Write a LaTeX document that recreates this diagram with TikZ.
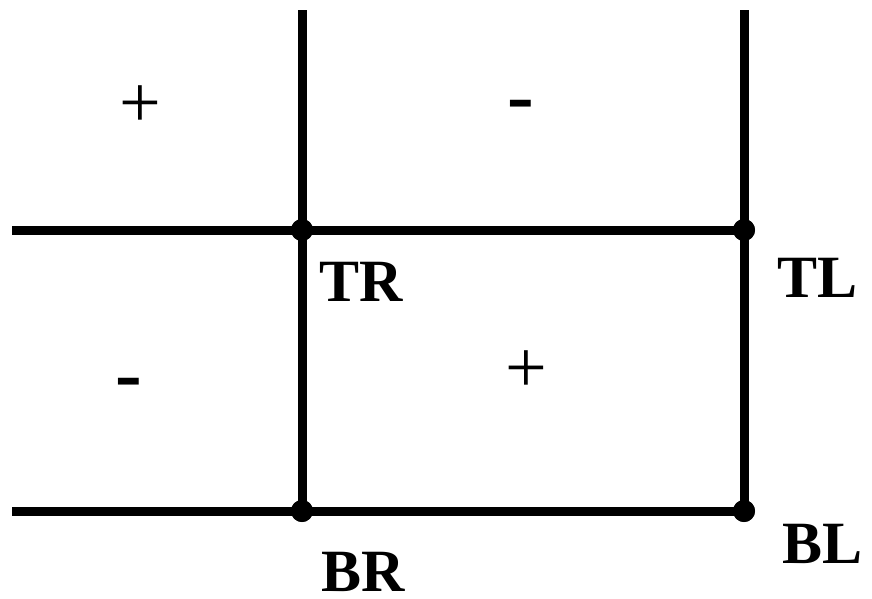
\documentclass[tikz,border=0pt]{standalone}
\usepackage{fontspec}
\setmainfont{Liberation Serif}
\begin{document}
\begin{tikzpicture}[x=1pt,y=-1pt,
  grid/.style={line width=9pt},
  junction/.style={circle,fill=black,inner sep=0pt,minimum size=22pt},
  corner/.style={font=\fontsize{60}{60}\selectfont\bfseries,inner sep=0pt,text depth=0pt,anchor=base west},
  plussign/.style={font=\fontsize{74}{74}\selectfont,inner sep=0pt,anchor=base},
  minussign/.style={font=\fontsize{80}{80}\selectfont\bfseries,inner sep=0pt,anchor=base}]
\useasboundingbox (0,0) rectangle (872,598);

% junction points
\node[junction] (tr) at (302,230) {};
\node[junction] (tl) at (744,230) {};
\node[junction] (br) at (302,511) {};
\node[junction] (bl) at (744,511) {};

% free ends of the lines
\coordinate (trtop) at (302,10);
\coordinate (tltop) at (744,10);
\coordinate (trleft) at (12,230);
\coordinate (brleft) at (12,511);

% grid lines
\draw[grid] (trtop) -- (tr.center) -- (br.center);
\draw[grid] (tltop) -- (tl.center) -- (bl.center);
\draw[grid] (trleft) -- (tr.center) -- (tl.center);
\draw[grid] (brleft) -- (br.center) -- (bl.center);

% redraw junction dots on top
\node[junction] at (tr) {};
\node[junction] at (tl) {};
\node[junction] at (br) {};
\node[junction] at (bl) {};

% corner labels
\node[corner] (trlabel) at (319,301) {TR};
\node[corner] (tllabel) at (777,297) {TL};
\node[corner] (brlabel) at (321,591) {BR};
\node[corner] (bllabel) at (782,563) {BL};

% quadrant signs
\node[plussign] (q1) at (140,127) {+};
\node[minussign] (q2) at (521,122) {-};
\node[minussign] (q3) at (129,400) {-};
\node[plussign] (q4) at (526,392) {+};
\end{tikzpicture}
\end{document}
